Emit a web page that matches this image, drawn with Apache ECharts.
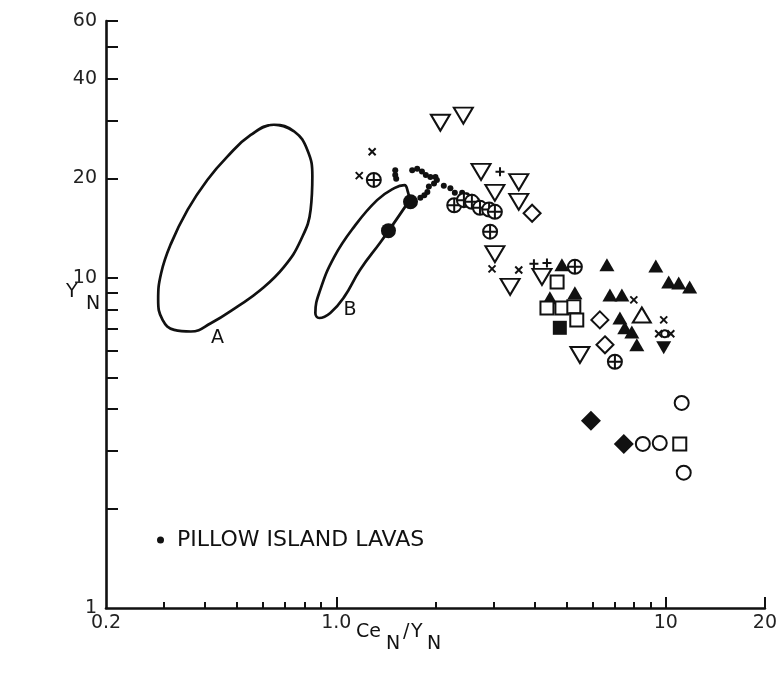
<!DOCTYPE html>
<html>
<head>
<meta charset="utf-8">
<title>Y_N vs Ce_N/Y_N</title>
<script src="https://cdn.jsdelivr.net/npm/echarts@6.0.0/dist/echarts.min.js"></script>
<style>
  html, body { margin: 0; padding: 0; background: #fff; }
  #chart { width: 780px; height: 675px; }
</style>
</head>
<body>
<div id="chart"></div>
<script type="text/javascript">
// axis ticks / labels
var xLabelValues = [0.2, 1, 10, 20];
var xMinorTicks = [0.3, 0.4, 0.5, 0.6, 0.7, 0.8, 0.9, 2, 3, 4, 5, 6, 7, 8, 9];
var xMajorTicks = [1, 10, 20];
var yLabelValues = [1, 10, 20, 40, 60];
var yTicks = [2, 3, 4, 5, 6, 7, 8, 9, 10, 20, 30, 40, 50, 60];

// field outlines A and B  [Ce_N/Y_N, Y_N]
// A is a closed loop: the first two points are repeated at the end so the smoothed line closes without a corner
var contourA = [[0.550,27.1],[0.647,29.1],[0.744,27.8],[0.817,24.4],[0.846,20.3],[0.836,16.1],[0.780,13.0],[0.694,10.8],[0.590,9.20],[0.501,8.19],[0.416,7.29],[0.362,6.88],[0.322,6.96],[0.297,7.46],[0.288,8.58],[0.294,10.33],[0.315,12.7],[0.354,16.1],[0.406,19.8],[0.467,23.3],[0.550,27.1],[0.647,29.1],[0.744,27.8]];
var contourB = [[1.67,17.2],[1.45,14.0],[1.36,12.8],[1.18,10.57],[1.057,8.76],[0.959,7.83],[0.888,7.56],[0.864,7.83],[0.894,9.20],[0.986,11.58],[1.134,14.3],[1.33,17.2],[1.50,18.7],[1.61,19.1],[1.65,18.2],[1.67,17.2]];
var fieldLabels = [[0.436, 6.58, 'A'], [1.10, 8.0, 'B']];

// samples
var pillowIsland = [[1.51,21.2],[1.51,20.5],[1.52,19.95],[1.70,21.2],[1.76,21.4],[1.82,21.0],[1.87,20.5],[1.93,20.2],[2.00,20.2],[2.02,19.8],[1.98,19.3],[1.91,18.9],[1.89,18.2],[1.85,17.8],[1.80,17.5],[2.12,19.0],[2.22,18.7],[2.29,18.1],[2.41,18.1],[2.49,17.8],[2.58,17.6],[2.67,17.2]];
var bigDots = [[1.68,17.0],[1.44,13.9]];
var circlePlus = [[1.30,19.8],[2.28,16.6],[2.44,17.2],[2.58,17.0],[2.73,16.3],[2.91,16.1],[3.03,15.85],[2.93,13.8],[5.30,10.8],[7.01,5.57]];
var crosses = [[1.285,24.1],[1.174,20.4],[2.97,10.65],[3.58,10.57],[8.0,8.58],[9.86,7.46],[9.52,6.77],[10.36,6.77]];
var plusses = [[3.14,20.95],[3.98,11.03],[4.36,11.1]];
var openDownTri = [[2.07,29.5],[2.43,31.0],[2.75,20.95],[3.58,19.5],[3.03,18.1],[3.58,17.0],[3.03,11.8],[3.37,9.39],[4.21,10.07],[5.49,5.84]];
var openDiamond = [[3.93,15.7],[6.31,7.46],[6.54,6.27]];
var filledUpTri = [[4.84,10.95],[4.45,8.70],[5.30,9.01],[6.63,10.95],[9.33,10.87],[10.21,9.72],[10.95,9.65],[11.82,9.39],[6.77,8.88],[7.36,8.88],[7.26,7.56],[7.51,7.06],[7.89,6.86],[8.17,6.27]];
var openSquare = [[4.68,9.72],[4.36,8.11],[4.84,8.11],[5.26,8.17],[5.37,7.46],[11.03,3.14]];
var filledSquare = [[4.77,7.06]];
var openUpTri = [[8.46,7.72]];
var filledDownTri = [[9.86,6.14]];
var filledDiamond = [[5.93,3.69],[7.46,3.14]];
var openCircle = [[11.18,4.18],[8.52,3.14],[9.59,3.16],[11.34,2.57]];
var smallOpenCircle = [[9.93,6.77]];

var INK = '#111111';
var SYM_X = 'path://M0,0L10,10M10,0L0,10';
var SYM_PLUS = 'path://M5,0L5,10M0,5L10,5';
var SYM_OPLUS = 'path://M10,0A10,10,0,1,1,10,20A10,10,0,1,1,10,0ZM10,0L10,20M0,10L20,10';

function pts(name, data, symbol, size, fill, rotate) {
    return {
        name: name,
        type: 'scatter',
        data: data,
        symbol: symbol,
        symbolSize: size,
        symbolRotate: rotate || 0,
        z: 5,
        itemStyle: {
            color: fill,
            opacity: 1,
            borderColor: INK,
            borderWidth: fill === INK ? 0 : 2
        }
    };
}

function outline(name, data) {
    return {
        name: name,
        type: 'line',
        data: data,
        smooth: 0.45,
        showSymbol: false,
        symbol: 'none',
        z: 2,
        lineStyle: { color: INK, width: 2.7, opacity: 1 }
    };
}

var txt = function (s, l, t) {
    return { type: 'text', left: l, top: t, style: { text: s, fontSize: 19, fill: INK, fontFamily: 'DejaVu Sans' } };
};

var chart = echarts.init(document.getElementById('chart'));
chart.setOption({
    backgroundColor: '#ffffff',
    animation: false,
    textStyle: { fontFamily: 'DejaVu Sans' },
    grid: { left: 106, right: 13, top: 21, bottom: 67 },
    legend: {
        data: ['PILLOW ISLAND LAVAS'],
        left: 152, top: 524,
        icon: 'circle',
        itemWidth: 7, itemHeight: 7,
        textStyle: { fontSize: 22, color: INK, padding: [0, 0, 0, 8], fontFamily: 'DejaVu Sans' }
    },
    xAxis: [{
        type: 'log', min: 0.2, max: 20, logBase: 10,
        position: 'bottom',
        axisLine: { lineStyle: { color: INK, width: 2.6 } },
        axisTick: { inside: true, length: 6, customValues: xMinorTicks, lineStyle: { color: INK, width: 2 } },
        axisLabel: {
            customValues: xLabelValues, margin: 6, fontSize: 19, color: '#222',
            formatter: function (v) { return v === 1 ? '1.0' : String(v); }
        },
        splitLine: { show: false }
    }, {
        type: 'log', min: 0.2, max: 20, logBase: 10,
        position: 'bottom',
        axisLine: { show: false },
        axisTick: { inside: true, length: 11, customValues: xMajorTicks, lineStyle: { color: INK, width: 2 } },
        axisLabel: { show: false },
        splitLine: { show: false }
    }],
    yAxis: {
        type: 'log', min: 1, max: 60, logBase: 10,
        axisLine: { lineStyle: { color: INK, width: 2.6 } },
        axisTick: { inside: true, length: 12, customValues: yTicks, lineStyle: { color: INK, width: 2 } },
        axisLabel: { customValues: yLabelValues, margin: 9, fontSize: 19, color: '#222' },
        splitLine: { show: false }
    },
    graphic: [
        txt('Y', 66, 283),
        txt('N', 86, 295),
        txt('Ce', 356, 623),
        txt('N', 386, 635),
        txt('/', 403, 623),
        txt('Y', 411, 623),
        txt('N', 427, 635)
    ],
    series: [
        outline('A', contourA),
        outline('B', contourB),
        {
            type: 'scatter', data: fieldLabels, symbolSize: 0, z: 3,
            itemStyle: { opacity: 1 },
            label: {
                show: true, position: 'inside', fontSize: 19, color: INK,
                formatter: function (p) { return p.data[2]; }
            }
        },
        pts('PILLOW ISLAND LAVAS', pillowIsland, 'circle', 6, INK),
        pts('big dots', bigDots, 'circle', 15, INK),
        pts('circle plus', circlePlus, SYM_OPLUS, 14, '#fff'),
        pts('crosses', crosses, SYM_X, 7, 'rgba(0,0,0,0)'),
        pts('plus', plusses, SYM_PLUS, 9, 'rgba(0,0,0,0)'),
        pts('open down triangle', openDownTri, 'triangle', [19, 16], '#fff', 180),
        pts('open diamond', openDiamond, 'diamond', [17, 17], '#fff'),
        pts('filled up triangle', filledUpTri, 'triangle', [15, 13], INK),
        pts('open square', openSquare, 'rect', 13, '#fff'),
        pts('filled square', filledSquare, 'rect', 14, INK),
        pts('open up triangle', openUpTri, 'triangle', [18, 15], '#fff'),
        pts('filled down triangle', filledDownTri, 'triangle', [15, 13], INK, 180),
        pts('filled diamond', filledDiamond, 'diamond', [20, 20], INK),
        pts('open circle', openCircle, 'circle', 14, '#fff'),
        pts('small open circle', smallOpenCircle, 'circle', 7, '#fff')
    ]
});
</script>
</body>
</html>
